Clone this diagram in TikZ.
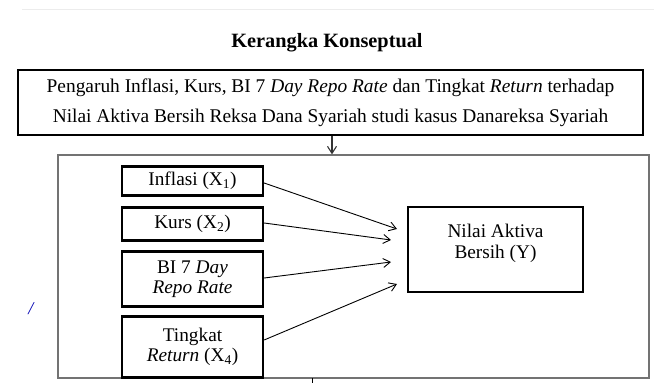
\documentclass[tikz,border=0pt]{standalone}
\usepackage{fontspec}
\setmainfont{Liberation Serif}
\usetikzlibrary{arrows.meta}
\begin{document}
\begin{tikzpicture}[x=1pt,y=-1pt,
  thickbox/.style={draw=black,line width=2.3pt,inner sep=0pt},
  arr/.style={-{Straight Barb[length=7pt,width=9pt]},line width=0.9pt},
  txt/.style={font=\fontsize{19.3}{20}\selectfont,align=center}]
\useasboundingbox (0,0) rectangle (654,383);
\draw[gray!15,line width=0.8pt] (22,9) -- (654,9);
\node[font=\bfseries\fontsize{20.3}{22}\selectfont] (title) at (327,43) {Kerangka Konseptual};
\node[thickbox,line width=2.6pt,minimum width=625pt,minimum height=65pt,align=center,font=\fontsize{19.4}{30}\selectfont] (top) at (330.5,102.5)
  {Pengaruh Inflasi, Kurs, BI 7 \textit{Day Repo Rate} dan Tingkat \textit{Return} terhadap\\
   Nilai Aktiva Bersih Reksa Dana Syariah studi kasus Danareksa Syariah};
\node[draw=black!55,line width=1.3pt,minimum width=591pt,minimum height=223pt,inner sep=0pt] (outer) at (353.5,266.5) {};
\draw[arr,line width=1.1pt,draw=black!80] (top.south -| 332,0) -- (outer.north -| 332,0);
\node[thickbox,minimum width=141pt,minimum height=29pt,txt] (x1) at (192.5,181) {Inflasi (X\textsubscript{1})};
\node[thickbox,minimum width=141pt,minimum height=33pt,txt] (x2) at (192.5,224) {Kurs (X\textsubscript{2})};
\node[thickbox,minimum width=141pt,minimum height=55pt,txt] (x3) at (192.5,279) {BI 7 \textit{Day}\\\textit{Repo Rate}};
\node[thickbox,minimum width=141pt,minimum height=61pt,txt] (x4) at (192.5,347) {Tingkat\\\textit{Return} (X\textsubscript{4})};
\node[thickbox,minimum width=175pt,minimum height=85pt] (y) at (495.5,249.5) {};
\node[txt,font=\fontsize{19.3}{21}\selectfont] (ytext) at (495.5,243) {Nilai Aktiva\\Bersih (Y)};
\coordinate (e1) at (397,229);
\coordinate (e2) at (391,240);
\coordinate (e3) at (391,262);
\coordinate (e4) at (397,284);
\draw[arr] (x1.east |- 0,183) -- (e1);
\draw[arr] (x2.east |- 0,223) -- (e2);
\draw[arr] (x3.east |- 0,278) -- (e3);
\draw[arr] (x4.east |- 0,340) -- (e4);
\coordinate (t1) at (312,378);
\coordinate (t2) at (312,383);
\draw[line width=1pt] (t1) -- (t2);
\node[text=blue!70!black,font=\itshape\fontsize{18}{20}\selectfont] (slash) at (31,309) {/};
\end{tikzpicture}
\end{document}
